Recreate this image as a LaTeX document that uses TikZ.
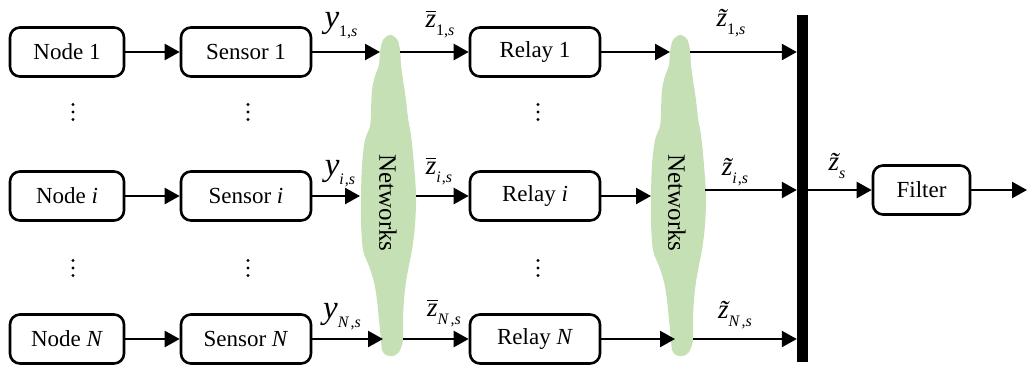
\documentclass[tikz,border=0pt]{standalone}
\usepackage{amsmath}
\usepackage{fontspec}
\setmainfont{Liberation Serif}
\usetikzlibrary{arrows.meta}

\definecolor{cloudgreen}{RGB}{197,224,180}

% signal labels: large italic letter with a lowered small subscript
\newcommand{\sig}[3][-9pt]{#2\raisebox{#1}{\fontsize{16}{16}\selectfont #3}}
\newcommand{\yv}{{\fontsize{33}{33}\selectfont\itshape y}}
\newcommand{\zbar}{{\fontsize{27}{27}\selectfont$\overline{\text{\itshape z}}$}}
\newcommand{\ztil}{{\fontsize{27}{27}\selectfont\itshape\~z}}

\tikzset{
  blk/.style={draw, line width=2.6pt, rounded corners=10pt, minimum height=49pt,
              inner sep=0pt, font=\fontsize{23}{27}\selectfont},
  flow/.style={line width=2.4pt, -{Triangle[length=15pt,width=16pt]}},
  lab/.style={inner sep=0pt},
  netlabel/.style={rotate=-90, inner sep=0pt, font=\fontsize{25}{29}\selectfont},
}

% blob-shaped network cloud centred on x = 0
\newcommand{\netcloud}{%
  \fill[cloudgreen] plot[smooth cycle, tension=0.55] coordinates {
    (0,35) (7,39) (10,50) (11,65) (13,80) (16,100) (18,118) (21,135) (24,165)
    (26,196) (25,225) (22,250) (19,265) (16,282) (14,300) (13,320) (13,340)
    (9,352) (3,356) (-4,355) (-8,350) (-9,340) (-11,320) (-13,300) (-16,282)
    (-21,266) (-27,250) (-29,222) (-29,196) (-28,165) (-25,140) (-20,126)
    (-19,110) (-18,90) (-15,76) (-11,65) (-10,52) (-7,40)};}

% three stacked dots marking omitted rows
\newcommand{\rowdots}[2]{%
  \foreach \dy in {-7.5,0,7.5}{\fill (#1,#2+\dy) circle (1.6pt);}}

\begin{document}
\begin{tikzpicture}[x=1pt, y=-1pt]
\useasboundingbox (0,0) rectangle (1027,365);

% network clouds and their connection points
\begin{scope}[xshift=390pt]
  \netcloud
  \coordinate (a1in) at (-10,52);  \coordinate (a1out) at (10,52);
  \coordinate (aiin) at (-30,196); \coordinate (aiout) at (26,196);
  \coordinate (aNin) at (-7,339);  \coordinate (aNout) at (13,339);
  \node[netlabel] (net1) at (-2,203) {Networks};
\end{scope}
\begin{scope}[xshift=680pt]
  \netcloud
  \coordinate (b1in) at (-10,52);  \coordinate (b1out) at (10,52);
  \coordinate (biin) at (-29,196); \coordinate (biout) at (25,190);
  \coordinate (bNin) at (-5,339);  \coordinate (bNout) at (13,339);
  \node[netlabel] (net2) at (-3,203) {Networks};
\end{scope}

% sources, sensors and relays
\node[blk, minimum width=114pt] (n1) at (67,52) {Node 1};
\node[blk, minimum width=114pt] (ni) at (67,196) {Node \textit{i}};
\node[blk, minimum width=114pt] (nN) at (67,339) {Node \textit{N}};
\node[blk, minimum width=130pt] (s1) at (246,52) {Sensor 1};
\node[blk, minimum width=130pt] (si) at (246,196) {Sensor \textit{i}};
\node[blk, minimum width=130pt] (sN) at (246,339) {Sensor \textit{N}};
\node[blk, minimum width=130pt] (r1) at (535,52) {Relay 1};
\node[blk, minimum width=130pt] (ri) at (535,196) {Relay \textit{i}};
\node[blk, minimum width=130pt] (rN) at (535,339) {Relay \textit{N}};

% fusion bar and filter
\node[fill=black, minimum width=11pt, minimum height=347pt, inner sep=0pt] (bar) at (802.5,188.5) {};
\node[blk, minimum width=97pt] (filt) at (921.5,190) {Filter};
\coordinate (out) at (1027,190);

% vertical ellipses between rows
\foreach \x in {73,248,538}{
  \rowdots{\x}{112}
  \rowdots{\x}{268}
}

% connectors
\draw[flow] (n1) -- (s1);
\draw[flow] (ni) -- (si);
\draw[flow] (nN) -- (sN);
\draw[flow] (s1.east) -- (a1in);
\draw[flow] (si.east) -- (aiin);
\draw[flow] (sN.east) -- (aNin);
\draw[flow] (a1out) -- (r1.west);
\draw[flow] (aiout) -- (ri.west);
\draw[flow] (aNout) -- (rN.west);
\draw[flow] (r1.east) -- (b1in);
\draw[flow] (ri.east) -- (biin);
\draw[flow] (rN.east) -- (bNin);
\draw[flow] (b1out) -- (b1out -| bar.west);
\draw[flow] (biout) -- (biout -| bar.west);
\draw[flow] (bNout) -- (bNout -| bar.west);
\draw[flow] (bar.east |- filt.west) -- (filt.west);
\draw[flow] (filt.east) -- (out);

% signal labels
\node[lab] (ly1) at (341,26) {\sig{\yv}{1,\textit{s}}};
\node[lab] (lyi) at (340,174) {\sig{\yv}{\textit{i}\kern1pt,\textit{s}}};
\node[lab] (lyN) at (342,317) {\sig{\yv}{\textit{N}\kern1.5pt,\textit{s}}};
\node[lab] (lb1) at (440,24) {\sig[-8pt]{\zbar}{1,\textit{s}}};
\node[lab] (lbi) at (439,171) {\sig[-8pt]{\zbar}{\textit{i}\kern1pt,\textit{s}}};
\node[lab] (lbN) at (444,313) {\sig[-8pt]{\zbar}{\textit{N}\kern1.5pt,\textit{s}}};
\node[lab] (lt1) at (731,23) {\sig[-8pt]{\ztil}{1,\textit{s}}};
\node[lab] (lti) at (735,172) {\sig[-8pt]{\ztil}{\textit{i}\kern1pt,\textit{s}}};
\node[lab] (ltN) at (735,315) {\sig[-8pt]{\ztil}{\textit{N}\kern1.5pt,\textit{s}}};
\node[lab] (lts) at (837,166) {\sig[-8pt]{\ztil}{\textit{s}}};
\end{tikzpicture}
\end{document}
